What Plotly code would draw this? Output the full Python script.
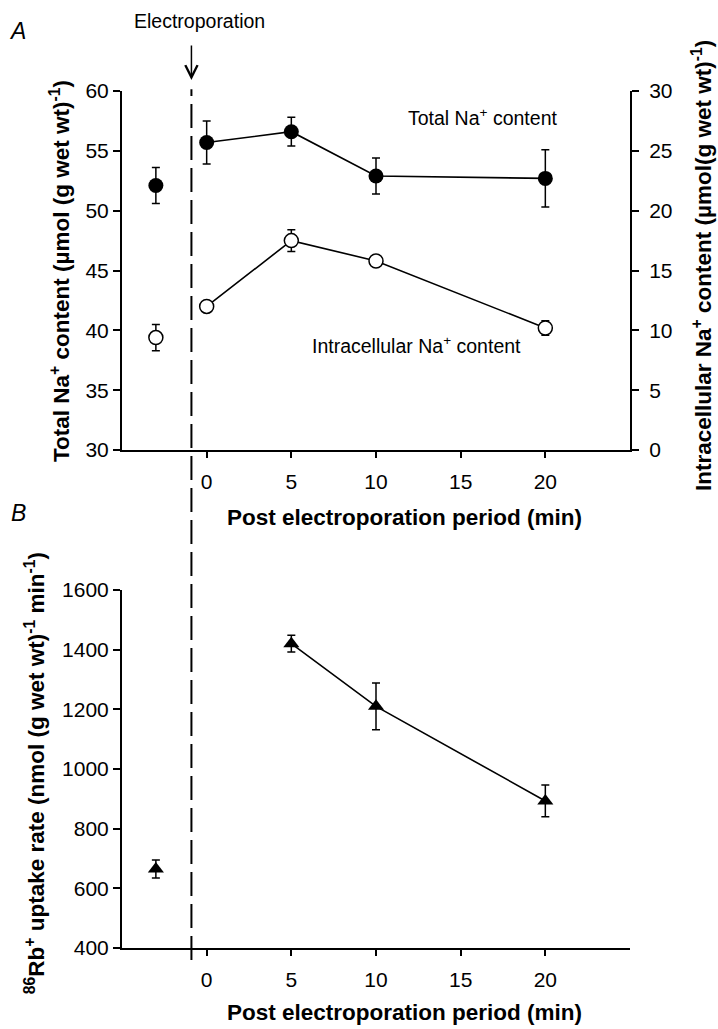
import plotly.graph_objects as go

# ---------------- data ----------------
electroporation_t = -0.9
t_pre = [-3]
t_post = [0, 5, 10, 20]

total_na_pre = [52.1]
total_na_pre_err = [1.5]
total_na_post = [55.7, 56.6, 52.9, 52.7]
total_na_post_err = [1.8, 1.2, 1.5, 2.4]

intra_na_pre = [9.4]
intra_na_pre_err = [1.1]
intra_na_post = [12.0, 17.5, 15.8, 10.2]
intra_na_post_err = [0.4, 0.9, 0.3, 0.6]

rb_t_post = [5, 10, 20]
rb_pre = [665]
rb_pre_err = [30]
rb_post = [1420, 1210, 893]
rb_post_err = [28, 78, 53]

x_ticks = [0, 5, 10, 15, 20]

# ---------------- styling ----------------
FONT = "Liberation Sans, Arial, Helvetica, sans-serif"
BLACK = "black"
TICKFONT = dict(family=FONT, size=21, color=BLACK)


def err(vals):
    return dict(type="data", array=vals, visible=True, color=BLACK, thickness=1.5, width=4)


fig = go.Figure()

# Panel A - total Na (left axis)
fig.add_trace(go.Scatter(x=t_pre, y=total_na_pre, mode="markers", error_y=err(total_na_pre_err),
                         marker=dict(symbol="circle", size=15, color=BLACK),
                         xaxis="x", yaxis="y", showlegend=False))
fig.add_trace(go.Scatter(x=t_post, y=total_na_post, mode="lines+markers", error_y=err(total_na_post_err),
                         line=dict(color=BLACK, width=1.6),
                         marker=dict(symbol="circle", size=15, color=BLACK),
                         xaxis="x", yaxis="y", showlegend=False))
# Panel A - intracellular Na (right axis)
fig.add_trace(go.Scatter(x=t_pre, y=intra_na_pre, mode="markers", error_y=err(intra_na_pre_err),
                         marker=dict(symbol="circle", size=14, color="white", line=dict(color=BLACK, width=1.5)),
                         xaxis="x", yaxis="y3", showlegend=False))
fig.add_trace(go.Scatter(x=t_post, y=intra_na_post, mode="lines+markers", error_y=err(intra_na_post_err),
                         line=dict(color=BLACK, width=1.6),
                         marker=dict(symbol="circle", size=14, color="white", line=dict(color=BLACK, width=1.5)),
                         xaxis="x", yaxis="y3", showlegend=False))
# Panel B - 86Rb uptake
fig.add_trace(go.Scatter(x=t_pre, y=rb_pre, mode="markers", error_y=err(rb_pre_err),
                         marker=dict(symbol="triangle-up", size=14, color=BLACK),
                         xaxis="x2", yaxis="y2", showlegend=False))
fig.add_trace(go.Scatter(x=rb_t_post, y=rb_post, mode="lines+markers", error_y=err(rb_post_err),
                         line=dict(color=BLACK, width=1.6),
                         marker=dict(symbol="triangle-up", size=14, color=BLACK),
                         xaxis="x2", yaxis="y2", showlegend=False))

xcommon = dict(range=[-5, 25], tickvals=x_ticks, ticks="outside", ticklen=6, tickwidth=1.5,
               tickcolor=BLACK, showline=True, linewidth=2, linecolor=BLACK, showgrid=False,
               zeroline=False, tickfont=TICKFONT, ticklabelstandoff=6)
ycommon = dict(ticks="outside", ticklen=7, tickwidth=1.5, tickcolor=BLACK, showline=True,
               linewidth=2, linecolor=BLACK, showgrid=False, zeroline=False, tickfont=TICKFONT)

fig.update_layout(
    width=718, height=1029,
    margin=dict(l=122, r=88, t=91, b=81, autoexpand=False),
    paper_bgcolor="white", plot_bgcolor="white",
    font=dict(family=FONT, color=BLACK),
    xaxis=dict(domain=[0, 1], anchor="y", **xcommon),
    yaxis=dict(domain=[0.581, 1], anchor="x", range=[30, 60], dtick=5, **ycommon),
    yaxis3=dict(overlaying="y", side="right", anchor="x", range=[0, 30], dtick=5,
                ticklabelstandoff=6, **ycommon),
    xaxis2=dict(domain=[0, 1], anchor="y2", **xcommon),
    yaxis2=dict(domain=[0, 0.4177], anchor="x2", range=[400, 1600], dtick=200, **ycommon),
)

# Electroporation dashed marker spanning both panels
fig.add_shape(type="line", xref="x", yref="paper", x0=electroporation_t, x1=electroporation_t,
              y0=-0.014, y1=1.002, line=dict(color=BLACK, width=2, dash="24px,8px"))

TITLE = dict(family=FONT, size=22.5, color=BLACK)
LABEL = dict(family=FONT, size=19.5, color=BLACK)
annotations = [
    dict(text="<i>A</i>", x=-0.205, y=1.070, font=dict(family=FONT, size=23, color=BLACK)),
    dict(text="<i>B</i>", x=-0.203, y=0.5076, font=dict(family=FONT, size=23, color=BLACK)),
    dict(text="Electroporation", x=0.1516, y=1.0817, font=LABEL),
    dict(text="Total Na<sup>+</sup> content", x=0.7106, y=0.9697, font=LABEL),
    dict(text="Intracellular Na<sup>+</sup> content", x=0.5807, y=0.7036, font=LABEL),
    dict(text="<b>Total Na<sup>+</sup> content (µmol (g wet wt)<sup>-1</sup>)</b>",
         x=-0.122, y=0.790, textangle=-90, font=TITLE),
    dict(text="<b>Intracellular Na<sup>+</sup> content (µmol(g wet wt)<sup>-1</sup>)</b>",
         x=1.1417, y=0.797, textangle=-90, font=TITLE),
    dict(text="<b>Post electroporation period (min)</b>", x=0.557, y=0.5018, font=TITLE),
    dict(text="<b><sup>86</sup>Rb<sup>+</sup> uptake rate (nmol (g wet wt)<sup>-1</sup> min<sup>-1</sup>)</b>",
         x=-0.171, y=0.204, textangle=-90, font=TITLE),
    dict(text="<b>Post electroporation period (min)</b>", x=0.557, y=-0.0747, font=TITLE),
]
for a in annotations:
    fig.add_annotation(xref="paper", yref="paper", showarrow=False,
                       xanchor="center", yanchor="middle", **a)

# arrow pointing to the dashed line
fig.add_annotation(xref="x", yref="paper", x=electroporation_t, y=(948 - 80) / 857,
                   text="", showarrow=True, ax=0, ay=-36, arrowhead=5, arrowsize=1.6,
                   arrowwidth=1.5, arrowcolor=BLACK)

fig.write_html("out.html", config={"displayModeBar": False},
               post_script="document.body.style.margin='0';document.body.style.padding='0';"
                           "document.documentElement.style.overflow='hidden';")
